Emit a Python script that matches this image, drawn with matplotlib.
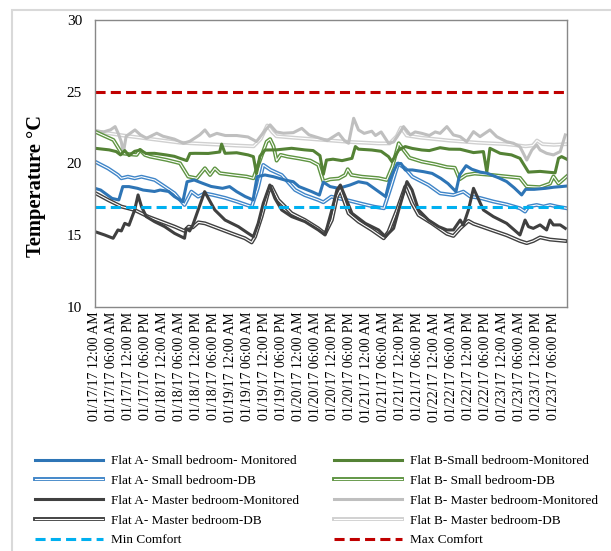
import numpy as np
import pandas as pd
import matplotlib
matplotlib.use("Agg")
import matplotlib.pyplot as plt
import matplotlib.patheffects as pe
from matplotlib.patches import Rectangle

plt.rcParams['font.family'] = ['Liberation Serif', 'DejaVu Serif']

# hours since 01/17/17 12:00 AM, temperatures in degC
a_small_mon_h = [0, 2, 6, 8.4, 9.8, 12, 15, 17, 21, 23, 26, 28, 31, 32.5, 35, 38, 41, 45, 47.5, 50, 53, 55.8,
                 57.2, 60, 63, 67, 70, 72, 76.5, 79.2, 80.6, 83, 86, 90, 93, 96, 98.5, 102.6, 104, 106.7, 108,
                 109.5, 112, 116, 119, 122, 124.6, 127.4, 128.7, 131, 133, 136, 138.4, 142.5, 145.3, 148, 150.6,
                 152, 155, 159, 162, 164.5, 166.5]
a_small_mon_t = [18.27, 18.15, 17.57, 17.46, 18.39, 18.39, 18.27, 18.15, 18.05, 18.15, 18.05, 17.7, 17.34, 18.73,
                 18.85, 18.62, 18.4, 18.27, 18.39, 18.04, 17.7, 17.46, 19.08, 19.2, 19.08, 18.85, 18.73, 18.39,
                 18.04, 17.8, 18.7, 18.39, 18.27, 18.5, 18.73, 18.62, 18.27, 17.69, 18.85, 20.0, 20.0, 19.55,
                 19.55, 19.43, 19.31, 18.97, 18.6, 18.04, 19.2, 19.85, 19.6, 19.4, 19.32, 19.0, 18.74, 18.3,
                 17.81, 18.2, 18.2, 18.27, 18.35, 18.39, 18.43]

a_small_db_h = [0, 4.6, 8.1, 9.3, 11.6, 14, 16.4, 18.7, 21.1, 24.6, 28.1, 31.6, 34, 36.4, 38.7, 41.6, 46, 50,
                55.3, 57.5, 59.4, 62, 65.9, 70.6, 74, 78.8, 80.6, 83.4, 86, 90, 94, 98.5, 102, 104.5, 107,
                109.5, 112, 117.7, 121.8, 126.5, 130, 132.4, 135.9, 140.6, 145.3, 150, 151.8, 153, 155.9,
                158.3, 160.6, 163, 166.5]
a_small_db_t = [20.13, 19.66, 19.2, 18.97, 19.08, 18.97, 19.08, 18.97, 18.85, 18.39, 17.92, 17.11, 18.04, 17.69,
                17.92, 17.81, 17.6, 17.35, 16.99, 18.3, 19.9, 19.55, 19.2, 18.16, 17.8, 17.46, 17.3, 17.69,
                17.57, 17.4, 17.2, 16.99, 16.88, 18.4, 20.0, 19.65, 19.08, 18.5, 17.92, 17.8, 18.04, 17.7, 17.6,
                17.35, 17.15, 16.88, 16.65, 17.0, 17.11, 17.0, 17.11, 17.0, 16.88]

a_master_mon_h = [0, 3.4, 6.4, 8.1, 9.3, 10.5, 12, 14, 15.2, 16.4, 18.1, 21, 24.6, 28.1, 31.6, 32.2, 33.4, 34.5,
                  36.4, 38.7, 42.3, 45.9, 50.6, 54.1, 55.9, 57.6, 59.4, 61.7, 63.5, 65.9, 69.4, 74.1, 78.8,
                  81.2, 83.6, 85.4, 86.6, 88.3, 90.7, 95.4, 100.1, 102.5, 103.6, 105.4, 107.2, 108.9, 110.1,
                  111.9, 114.2, 117.7, 121.3, 124.2, 126.5, 128.9, 130, 131.8, 133.6, 137.1, 140.6, 145.3, 150,
                  151.8, 153, 154.7, 157.1, 159.4, 160.6, 161.8, 164.2, 166]
a_master_mon_t = [15.25, 15.02, 14.79, 15.37, 15.3, 15.83, 15.7, 16.76, 17.81, 17.0, 16.3, 15.95, 15.6, 15.13,
                  14.79, 15.48, 15.3, 15.7, 16.76, 18.04, 16.76, 16.06, 15.6, 15.13, 14.9, 15.83, 17.23, 18.5,
                  17.57, 16.76, 16.3, 15.95, 15.37, 15.02, 16.76, 18.16, 18.5, 17.69, 16.53, 15.83, 15.37, 14.9,
                  15.13, 15.48, 16.76, 17.92, 18.74, 18.16, 16.76, 16.06, 15.6, 15.37, 15.37, 16.06, 15.7, 16.76,
                  18.27, 16.76, 16.3, 15.83, 15.02, 16.06, 15.6, 15.48, 15.72, 15.37, 16.06, 15.72, 15.72, 15.48]

a_master_db_h = [0, 4.6, 9.3, 14, 18.7, 23.4, 28.1, 31.6, 33, 34.5, 36.5, 38.8, 43.5, 48.2, 52.9, 55.3, 56.5,
                 58.8, 61.2, 62.3, 64.7, 69.4, 74.1, 78.8, 81.2, 83.6, 85.4, 86.6, 89.5, 93, 97.7, 101.9, 103.6,
                 106.6, 109.5, 111.9, 114.2, 118.9, 124.2, 126.5, 128.9, 131.8, 133.6, 139.4, 145.3, 150, 152.4,
                 154.7, 157.1, 160.6, 166]
a_master_db_t = [17.95, 17.46, 17.0, 16.76, 16.3, 15.95, 15.6, 15.3, 15.6, 15.55, 15.9, 15.83, 15.48, 15.13,
                 14.79, 14.5, 14.9, 16.3, 18.04, 18.39, 17.46, 16.53, 16.06, 15.48, 15.1, 16.06, 17.69, 18.16,
                 16.53, 15.95, 15.37, 14.79, 15.25, 16.76, 18.39, 17.23, 16.41, 15.83, 15.1, 14.95, 15.48, 16.0,
                 15.8, 15.4, 15.0, 14.6, 14.45, 14.6, 14.85, 14.7, 14.6]

b_small_mon_h = [0, 5, 7.5, 9, 10.5, 12, 14, 16, 18, 21, 25, 28, 30, 32.4, 33.5, 35.3, 40, 44, 44.7, 45.9, 50,
                 54, 55.9, 57, 58.2, 60, 64, 69.4, 74, 77, 79.4, 80.6, 81.7, 84, 87.2, 90.7, 91.9, 93, 97.7, 101,
                 103.6, 104.8, 107.2, 109.5, 112, 115.4, 118, 121.8, 125, 128.9, 133.6, 137.1, 138.3, 139.4, 143,
                 147, 150, 153, 157.1, 162.4, 163.6, 164.7, 166.5]
b_small_mon_t = [21.06, 20.95, 20.83, 20.6, 20.9, 20.55, 20.85, 20.94, 20.7, 20.71, 20.6, 20.5, 20.36, 20.2,
                 20.7, 20.71, 20.7, 20.8, 21.35, 20.71, 20.75, 20.6, 20.48, 19.3, 20.5, 20.94, 20.95, 21.06,
                 20.95, 20.9, 20.55, 19.25, 20.24, 20.3, 20.2, 20.36, 21.18, 21.0, 20.94, 20.85, 20.48, 20.13,
                 20.94, 21.18, 21.05, 20.94, 20.9, 21.1, 21.0, 20.99, 20.76, 20.83, 19.4, 21.06, 20.71, 20.6,
                 20.36, 19.4, 19.45, 19.35, 20.36, 20.48, 20.3]

b_small_db_h = [0, 3, 6.5, 9.4, 12, 14.7, 15.9, 17.6, 19.4, 25.3, 30, 32.9, 35.9, 38.8, 40.6, 42.3, 44.1, 48.8,
                53.5, 55.9, 58, 60.6, 61.8, 63, 64.1, 65.5, 68, 72, 76, 78.8, 80.6, 83, 86, 88.3, 89.2, 90.5,
                94.2, 100.1, 103, 105, 107.2, 108.9, 111, 115.4, 120.1, 124.2, 127, 128.7, 131, 134, 140, 145,
                150, 152.4, 157, 160.6, 161.8, 163.6, 166.5]
b_small_db_t = [22.22, 21.95, 21.64, 20.71, 20.65, 20.6, 20.95, 20.6, 20.48, 20.25, 20.02, 19.09, 18.97, 19.67,
                19.2, 19.66, 19.32, 19.2, 19.09, 18.97, 20.1, 21.52, 21.7, 21.2, 20.2, 20.6, 20.48, 20.35, 20.2,
                19.9, 18.75, 18.9, 18.95, 19.2, 19.6, 19.2, 19.08, 18.98, 18.85, 19.8, 21.41, 20.94, 20.4,
                20.13, 19.95, 19.75, 19.7, 18.9, 19.2, 19.3, 19.2, 19.1, 19.0, 18.4, 18.35, 18.6, 19.1, 18.6,
                19.1]

b_master_mon_h = [0, 3, 5.5, 7.1, 8.2, 9.3, 10, 11, 14.1, 16, 18.2, 21.8, 24, 28, 31.2, 33.5, 37, 38.8, 40.5,
                  43, 46, 50, 54, 57, 60, 61.8, 64, 66.5, 70, 73, 75.5, 79.4, 82, 86, 88, 89.5, 91.3, 93, 95,
                  97.7, 99, 101, 103.6, 105.4, 107.8, 108.9, 111.3, 113, 115.4, 118, 120.1, 121.8, 124.2, 126.5,
                  128.9, 131.2, 133.6, 135.9, 139.4, 141.8, 145.3, 147.7, 150, 152.4, 154.2, 155.9, 157.1,
                  159.4, 161.8, 164.2, 166]
b_master_mon_t = [22.29, 22.2, 22.35, 22.57, 22.1, 21.5, 20.75, 21.9, 22.34, 22.0, 21.76, 22.11, 21.9, 21.7,
                  21.41, 21.55, 22.0, 22.34, 21.9, 22.1, 21.95, 21.95, 21.85, 21.53, 22.3, 22.69, 22.2, 22.11,
                  22.15, 22.45, 22.0, 21.76, 21.6, 22.1, 21.6, 21.41, 23.15, 22.34, 22.1, 22.25, 21.95, 22.2,
                  21.41, 21.5, 22.22, 22.57, 21.99, 22.2, 22.1, 21.95, 22.2, 22.1, 22.57, 21.99, 21.87, 21.52,
                  22.22, 21.87, 22.34, 21.87, 21.52, 21.41, 21.17, 20.24, 20.94, 21.29, 20.94, 20.71, 20.6,
                  20.83, 21.99]

b_master_db_h = [0, 10, 20, 30, 40, 50, 56, 58.5, 60.8, 62.5, 64, 70, 80, 90, 100, 104, 106.5, 108, 110, 115,
                 125, 135, 145, 152, 154.5, 156, 158, 162, 166.5]
b_master_db_t = [22.25, 21.95, 21.7, 21.45, 21.35, 21.25, 21.2, 21.7, 22.65, 22.2, 21.9, 21.8, 21.65, 21.5,
                 21.4, 21.4, 21.9, 22.5, 21.95, 21.8, 21.6, 21.45, 21.35, 21.2, 21.25, 21.6, 21.35, 21.3, 21.35]

min_comfort = 17
max_comfort = 25

tick_hours = list(range(0, 163, 6))
tick_labels = list(pd.date_range('2017-01-17', periods=len(tick_hours), freq='6h').strftime('%m/%d/%y %I:%M %p'))

fig = plt.figure(figsize=(6.11, 5.51), dpi=100)
ax = fig.add_axes([95 / 611, 1 - 307 / 551, 472 / 611, 287 / 551])


def thick(h, t, color, label):
    return ax.plot(h, t, color=color, lw=2.2, label=label, solid_joinstyle='round')[0]


def double(h, t, color, label):
    return ax.plot(h, t, color='white', lw=0.8, label=label,
                   path_effects=[pe.Stroke(linewidth=2.8, foreground=color), pe.Normal()])[0]


l_bmdb = double(b_master_db_h, b_master_db_t, '#D0D0D0', 'Flat B- Master bedroom-DB')
l_bmm = thick(b_master_mon_h, b_master_mon_t, '#BFBFBF', 'Flat B- Master bedroom-Monitored')
l_bsdb = double(b_small_db_h, b_small_db_t, '#5E9441', 'Flat B- Small bedroom-DB')
l_bsm = thick(b_small_mon_h, b_small_mon_t, '#548235', 'Flat B-Small bedroom-Monitored')
l_asdb = double(a_small_db_h, a_small_db_t, '#3F85C8', 'Flat A- Small bedroom-DB')
l_asm = thick(a_small_mon_h, a_small_mon_t, '#2E75B6', 'Flat A- Small bedroom- Monitored')
l_amdb = double(a_master_db_h, a_master_db_t, '#404040', 'Flat A- Master bedroom-DB')
l_amm = thick(a_master_mon_h, a_master_mon_t, '#404040', 'Flat A- Master bedroom-Monitored')
l_min = ax.axhline(min_comfort, color='#00B0F0', lw=2.2, dashes=(3.3, 1.7), label='Min Comfort')
l_max = ax.axhline(max_comfort, color='#C00000', lw=2.2, dashes=(3.3, 1.7), label='Max Comfort')

ax.set_xlim(0, 166.6)
ax.set_ylim(10, 30)
ax.set_yticks([10, 15, 20, 25, 30])
ax.set_xticks(tick_hours)
ax.set_xticklabels(tick_labels, rotation=90, fontsize=10)
ax.tick_params(axis='y', labelsize=11, length=0, pad=9.4)
ax.tick_params(axis='x', length=0, pad=3.5)
for s in ax.spines.values():
    s.set_color('#888888')
    s.set_linewidth(1.0)
ax.set_ylabel('Temperature °C', fontsize=14.8, fontweight='bold')
ax.yaxis.set_label_coords(-0.104, 0.42)

handles = [l_asm, l_asdb, l_amm, l_amdb, l_min, l_bsm, l_bsdb, l_bmm, l_bmdb, l_max]
fig.legend(handles=handles, labels=[h.get_label() for h in handles], ncol=2, loc='upper left',
           bbox_to_anchor=(35 / 611, 1 - 455 / 551), frameon=False, fontsize=9.5, borderpad=0,
           borderaxespad=0, handlelength=5.15, handletextpad=0.6, labelspacing=0.57, columnspacing=2.65)

# outer chart border (cut by the image edge on the right and bottom)
fig.patches.append(Rectangle((12 / 611, -0.1), 1.2, 1 - 10 / 551 + 0.1, transform=fig.transFigure,
                             fill=False, edgecolor='#D9D9D9', lw=1.5))

fig.savefig('out.png', dpi=100)
